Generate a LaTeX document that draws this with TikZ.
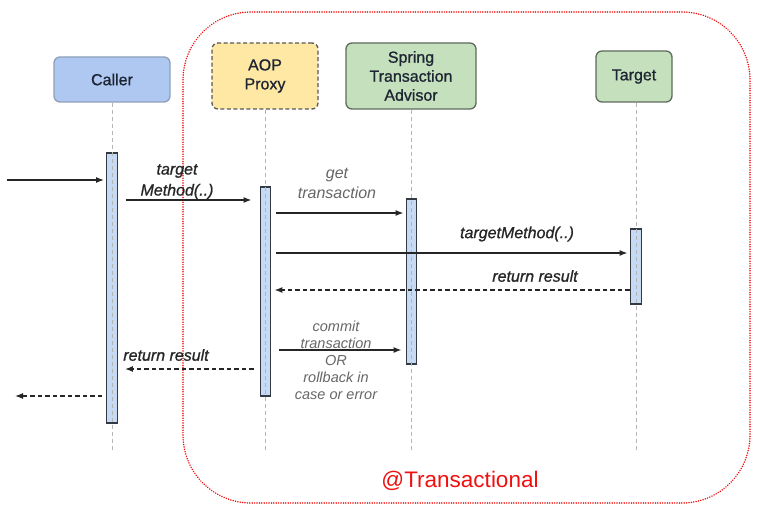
\documentclass[tikz,border=0pt]{standalone}
\usepackage{fontspec}
\setmainfont{Liberation Sans}
\newfontfamily\semib[FakeBold=0.9]{Liberation Sans}
\usetikzlibrary{arrows.meta,calc}
\definecolor{cblue}{HTML}{AEC8F2}
\definecolor{cblueb}{HTML}{8E9FB8}
\definecolor{cyel}{HTML}{FFE8A3}
\definecolor{cgreen}{HTML}{C5E0BC}
\definecolor{cgreenb}{HTML}{5E6B5C}
\definecolor{barfill}{HTML}{C6DBF3}
\definecolor{bardraw}{HTML}{333A44}
\definecolor{lifec}{HTML}{B5B5B5}
\definecolor{txtdark}{HTML}{1E2533}
\definecolor{txtgray}{HTML}{666666}
\definecolor{redc}{HTML}{F01010}
\tikzset{
  box/.style={rounded corners=6pt, line width=1.3pt, inner sep=0pt, align=center,
    text=txtdark, font=\semib\fontsize{16}{19}\selectfont},
  actbar/.style={draw=bardraw, fill=barfill, line width=1.3pt, inner sep=0pt, minimum width=10.5pt},
  lifeline/.style={draw=lifec, dashed, dash pattern=on 4pt off 3pt, line width=1pt},
  msg/.style={draw=black!85, line width=1.3pt, -{Latex[length=8pt,width=6pt]}},
  ret/.style={msg, dash pattern=on 4.5pt off 3pt},
  lblk/.style={font=\semib\fontsize{16}{21}\selectfont\itshape, text=black!85, align=center, inner sep=0pt},
  lblg/.style={font=\fontsize{16}{20}\selectfont\itshape, text=txtgray, align=center, inner sep=0pt},
}
\begin{document}
\begin{tikzpicture}[x=1pt,y=-1pt]
\useasboundingbox (0,0) rectangle (759,521);
% transactional frame
\node[draw=redc, line width=1.6pt, dash pattern=on 0.1pt off 2.3pt, line cap=round,
  rounded corners=68pt, minimum width=567pt, minimum height=491pt, inner sep=0pt]
  (frame) at (466.5,257.5) {};
\node[text=redc, font=\fontsize{22.5}{26}\selectfont, inner sep=0pt] (trans) at (460,481) {@Transactional};
% participants
\node[box, draw=cblueb, fill=cblue, minimum width=116pt, minimum height=45pt] (caller) at (112,79.5) {Caller};
\node[box, draw=black!65, dashed, dash pattern=on 4pt off 2.5pt, fill=cyel, minimum width=106pt, minimum height=66pt] (aop) at (265,76) {AOP\\Proxy};
\node[box, draw=cgreenb, fill=cgreen, minimum width=130pt, minimum height=66pt] (adv) at (411,76) {Spring\\Transaction\\Advisor};
\node[box, draw=cgreenb, fill=cgreen, minimum width=76pt, minimum height=51pt] (tgt) at (634,76.5) {Target};
% activation bars
\node[actbar, minimum height=270pt] (cbar) at (112,288) {};
\node[actbar, minimum height=209pt] (abar) at (265.5,291.5) {};
\node[actbar, minimum height=165pt] (vbar) at (411.5,281.5) {};
\node[actbar, minimum height=75pt, minimum width=11.5pt] (tbar) at (636,266.5) {};
% lifeline ends
\coordinate (cend) at (112,452);
\coordinate (aend) at (265.5,452);
\coordinate (vend) at (411.5,452);
\coordinate (tend) at (636,452);
\draw[lifeline] (caller.south) -- (caller.south |- cend);
\draw[lifeline] (aop.south) -- (aop.south |- aend);
\draw[lifeline] (adv.south) -- (adv.south |- vend);
\draw[lifeline] (tgt.south -| tend) -- (tend);
% free ends
\coordinate (inStart) at (7,180);
\coordinate (outEnd) at (15,396);
% messages
\draw[msg] (inStart) -- ([xshift=-2pt]cbar.west |- inStart);
\coordinate (y2) at (0,200);
\draw[msg] ([xshift=8pt]cbar.east |- y2) -- ([xshift=-8pt]abar.west |- y2);
\coordinate (y3) at (0,213);
\draw[msg] ([xshift=5pt]abar.east |- y3) -- ([xshift=-2pt]vbar.west |- y3);
\coordinate (y4) at (0,253);
\draw[msg] ([xshift=5pt]abar.east |- y4) -- ([xshift=-2pt]tbar.west |- y4);
\coordinate (y5) at (0,290);
\draw[ret] (tbar.west |- y5) -- ([xshift=3pt]abar.east |- y5);
\coordinate (y6) at (0,350);
\draw[msg] ([xshift=8pt]abar.east |- y6) -- ([xshift=-4pt]vbar.west |- y6);
\coordinate (y7) at (0,369);
\draw[ret] ([xshift=-6pt]abar.west |- y7) -- ([xshift=7pt]cbar.east |- y7);
\draw[ret] ([xshift=-4pt]cbar.west |- outEnd) -- (outEnd);
% labels
\node[lblk] (l2) at (177,181.5) {target\\Method(..)};
\node[lblg] (l3) at (337,183) {get\\transaction};
\node[lblk] (l4) at (517,234) {targetMethod(..)};
\node[lblk] (l5) at (535,276) {return result};
\node[lblg, font=\fontsize{14.5}{17}\selectfont\itshape] (l6) at (336,360) {commit\\transaction\\OR\\rollback in\\case or error};
\node[lblk] (l7) at (166,355) {return result};
\end{tikzpicture}
\end{document}
